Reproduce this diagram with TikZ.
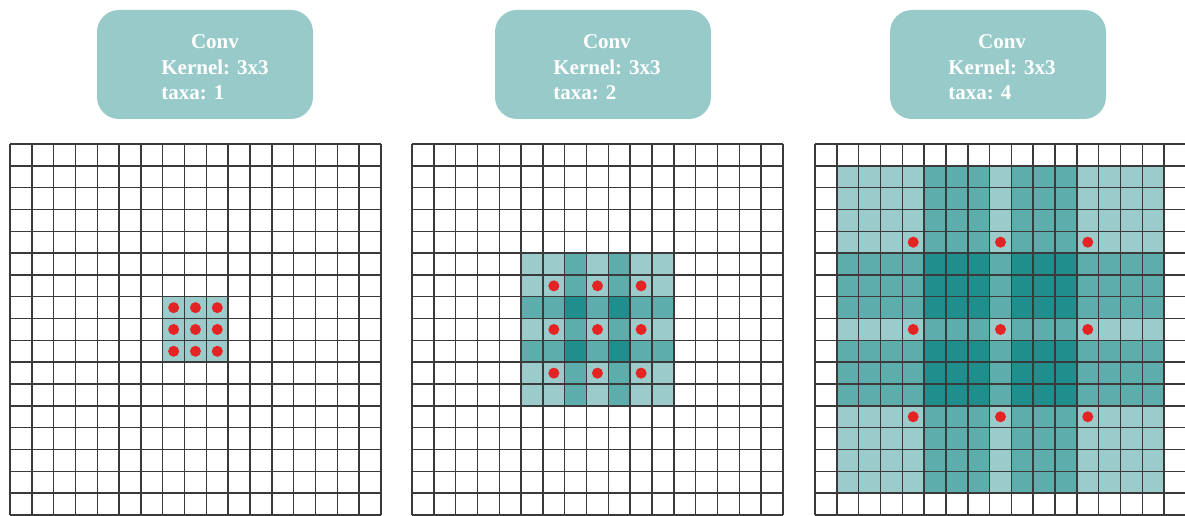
\documentclass[tikz,border=0pt]{standalone}
\usepackage{fontspec}
\setmainfont{Liberation Serif}
\definecolor{boxfill}{HTML}{99CACA}
\definecolor{tlight}{HTML}{9BCCCB}
\definecolor{tmed}{HTML}{5CADAC}
\definecolor{tdark}{HTML}{208E8D}
\definecolor{dotred}{HTML}{E42424}
\definecolor{gline}{HTML}{3A3A3A}
\tikzset{
  convbox/.style={fill=boxfill, rounded corners=22pt, minimum width=216pt, minimum height=109pt, inner sep=0pt},
  convtext/.style={text=white, font=\bfseries\fontsize{21}{25.5}\selectfont, inner sep=0pt},
  gridline/.style={gline, line width=1.5pt},
  rdot/.style={fill=dotred},
  cells/.style={xshift=#1pt, yshift=-144pt, x=21.82pt, y=-21.82pt},
}
\newcommand\mygridlines{\foreach \i in {0,...,17}{\draw[gridline] (\i,0)--(\i,17); \draw[gridline] (0,\i)--(17,\i);}}
\newcommand\convlabel[1]{\begin{tabular}{@{}l@{}}\multicolumn{1}{@{}c@{}}{Conv}\\Kernel: 3x3\\taxa: #1\end{tabular}}
\begin{document}
\begin{tikzpicture}[x=1pt,y=-1pt]
\useasboundingbox (0,0) rectangle (1185,516);
\clip (0,0) rectangle (1185,516);
% boxes
\node[convbox] (b1) at (205,64.5) {};
\node[convbox] (b2) at (603,64.5) {};
\node[convbox] (b3) at (998,64.5) {};
\node[convtext] (t1) at (215,69) {\convlabel{1}};
\node[convtext] (t2) at (607,69) {\convlabel{2}};
\node[convtext] (t3) at (1002,69) {\convlabel{4}};
% grid 1
\begin{scope}[cells=10]
  \fill[tlight] (7,7) rectangle (10,10);
  \mygridlines
  \foreach \a in {7.5,8.5,9.5}{\foreach \b in {7.5,8.5,9.5}{\fill[rdot] (\a,\b) circle (5.5pt);}}
\end{scope}
% grid 2
\begin{scope}[cells=412]
  \fill[tlight] (5,5) rectangle (12,12);
  \fill[tmed] (7,5) rectangle (8,12) (9,5) rectangle (10,12) (5,7) rectangle (12,8) (5,9) rectangle (12,10);
  \fill[tdark] (7,7) rectangle (8,8) (9,7) rectangle (10,8) (7,9) rectangle (8,10) (9,9) rectangle (10,10);
  \mygridlines
  \foreach \a in {6.5,8.5,10.5}{\foreach \b in {6.5,8.5,10.5}{\fill[rdot] (\a,\b) circle (5.5pt);}}
\end{scope}
% grid 3
\begin{scope}[cells=815]
  \fill[tlight] (1,1) rectangle (16,16);
  \fill[tmed] (5,1) rectangle (8,16) (9,1) rectangle (12,16) (1,5) rectangle (16,8) (1,9) rectangle (16,12);
  \fill[tdark] (5,5) rectangle (8,8) (9,5) rectangle (12,8) (5,9) rectangle (8,12) (9,9) rectangle (12,12);
  \mygridlines
  \foreach \a in {4.5,8.5,12.5}{\foreach \b in {4.5,8.5,12.5}{\fill[rdot] (\a,\b) circle (5.5pt);}}
\end{scope}
\end{tikzpicture}
\end{document}
